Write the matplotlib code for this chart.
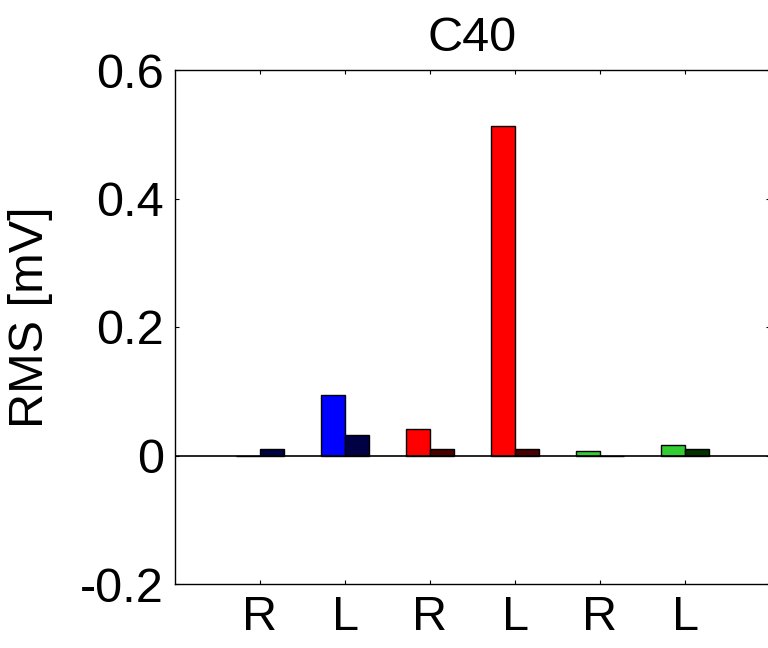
import numpy as np
import matplotlib
matplotlib.use("Agg")
import matplotlib.pyplot as plt

plt.rcParams["font.family"] = ["Liberation Sans", "DejaVu Sans"]

# RMS per side, two recordings per group (light / dark)
sides = ["R", "L", "R", "L", "R", "L"]
rms_first = [0.0, 0.094, 0.041, 0.513, 0.007, 0.016]
rms_second = [0.010, 0.032, 0.010, 0.010, 0.0, 0.010]
light_colors = ["#0000ff", "#0000ff", "#ff0000", "#ff0000", "#33cc33", "#33cc33"]
dark_colors = ["#000044", "#000044", "#4a0000", "#4a0000", "#003300", "#003300"]

W, H = 768, 648
fig = plt.figure(figsize=(W / 100, H / 100), dpi=100)
ax = fig.add_axes([175 / W, (H - 584) / H, 595 / W, 514 / H])

x = np.arange(1, len(sides) + 1)
bw = 0.286
ax.bar(x - bw / 2, rms_first, bw, color=light_colors, edgecolor="black", linewidth=1.0, zorder=2)
ax.bar(x + bw / 2, rms_second, bw, color=dark_colors, edgecolor="black", linewidth=1.0, zorder=2)
ax.axhline(0, color="black", linewidth=1.2, zorder=3)

ax.set_xlim(0, 7)
ax.set_ylim(-0.2, 0.6)
ax.set_xticks(x)
ax.set_xticklabels(sides)
ax.set_yticks([-0.2, 0, 0.2, 0.4, 0.6])
ax.set_yticklabels(["-0.2", "0", "0.2", "0.4", "0.6"])
ax.tick_params(direction="in", length=3, width=0.8, labelsize=35,
               top=True, right=True, pad=8)
for s in ax.spines.values():
    s.set_linewidth(1.0)

ax.set_ylabel("RMS [mV]", fontsize=35)
ax.yaxis.set_label_coords(-0.205, 0.52)
ax.set_title("C40", fontsize=35, pad=14)

fig.savefig("out.png", dpi=100)
